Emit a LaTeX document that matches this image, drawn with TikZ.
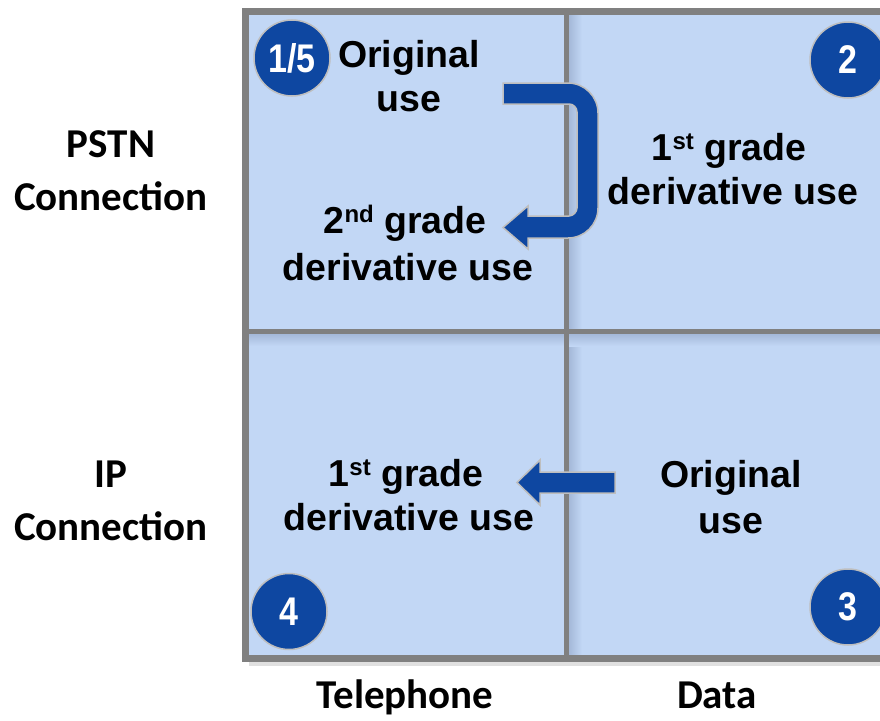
\documentclass[tikz,border=0pt]{standalone}
\usepackage{fontspec}
\setmainfont{Liberation Sans}
\newfontfamily\axisfont{Carlito}
\definecolor{cellblue}{RGB}{194,215,245}
\definecolor{cellshade}{RGB}{160,180,212}
\definecolor{gridgray}{RGB}{128,128,128}
\definecolor{badgeblue}{RGB}{14,71,161}
\definecolor{rimgray}{RGB}{190,190,190}
\newcommand\ordsup[1]{\raisebox{11pt}{\fontsize{24}{24}\selectfont #1}}
\tikzset{
  gridline/.style={draw=gridgray},
  celltext/.style={font=\bfseries\fontsize{37.5}{37.5}\selectfont, anchor=base, inner sep=0pt},
  axistext/.style={font=\axisfont\bfseries\fontsize{41}{41}\selectfont, anchor=base, inner sep=0pt},
  badge/.style={circle, minimum size=76pt, inner sep=0pt, fill=badgeblue, draw=rimgray, line width=1.5pt,
    text=white, font=\bfseries\fontsize{40}{40}\selectfont},
  blockarrow/.style={fill=badgeblue, draw=rimgray, line width=1.5pt, line join=miter}
}
\begin{document}
\begin{tikzpicture}[x=1pt,y=-1pt]
\useasboundingbox (0,0) rectangle (880,720);
\clip (0,0) rectangle (880,720);

% soft drop shadow under the grid
\fill[black!12] (249,660) rectangle (900,666);
% cell background
\fill[cellblue] (245,11) rectangle (900,659);
% shadows cast by the dividers
\shade[left color=cellshade, right color=cellblue] (567,11) rectangle (582,659);
\shade[top color=cellshade, bottom color=cellblue] (245,332) rectangle (900,346);

% grid frame and dividers
\draw[gridline, line width=7pt] (900,11) -- (245.5,11) -- (245.5,658.5) -- (900,658.5);
\draw[gridline, line width=5pt] (566.5,11) -- (566.5,658.5);
\draw[gridline, line width=5pt] (245.5,331.5) -- (900,331.5);

% U-turn arrow in the PSTN row
\filldraw[blockarrow] (503,83) -- (568,83)
  .. controls (584.5,83) and (598,96.5) .. (598,113) -- (598,208)
  .. controls (598,224.5) and (584.5,238) .. (568,238) -- (528,238) -- (528,249)
  -- (503,227.5) -- (528,206) -- (528,216) -- (569,216)
  .. controls (573.4,216) and (577,211.6) .. (577,208) -- (577,112)
  .. controls (577,107.6) and (573.4,104) .. (569,104) -- (503,104) -- cycle;

% straight arrow in the IP row
\filldraw[blockarrow] (615,472) -- (540,472) -- (540,460) -- (517,482.5)
  -- (540,505) -- (540,493) -- (615,493) -- cycle;

% numbered badges
\node[badge] (b15) at (292,58) {\scalebox{0.85}[1]{1/5}};
\node[badge] (b2) at (848,60) {\scalebox{0.85}[1]{2}};
\node[badge] (b3) at (848,607) {\scalebox{0.85}[1]{3}};
\node[badge] (b4) at (289,611.5) {\scalebox{0.85}[1]{4}};

% cell texts
\node[celltext] (tlA) at (409,67) {Original};
\node[celltext] (tlB) at (409,111) {use};
\node[celltext] (tlC) at (405,233) {2\ordsup{nd} grade};
\node[celltext] (tlD) at (408,280) {derivative use};

\node[celltext] (trA) at (729,160) {1\ordsup{st} grade};
\node[celltext] (trB) at (733,204) {derivative use};

\node[celltext] (blA) at (406,486) {1\ordsup{st} grade};
\node[celltext] (blB) at (409,530) {derivative use};

\node[celltext] (brA) at (731,487) {Original};
\node[celltext] (brB) at (731,533) {use};

% row labels
\node[axistext] (rowA1) at (111,157) {PSTN};
\node[axistext] (rowA2) at (111,210) {Connection};
\node[axistext] (rowB1) at (111,487) {IP};
\node[axistext] (rowB2) at (111,540) {Connection};

% column labels
\node[axistext] (colA) at (405,708) {Telephone};
\node[axistext] (colB) at (717,708) {Data};
\end{tikzpicture}
\end{document}
